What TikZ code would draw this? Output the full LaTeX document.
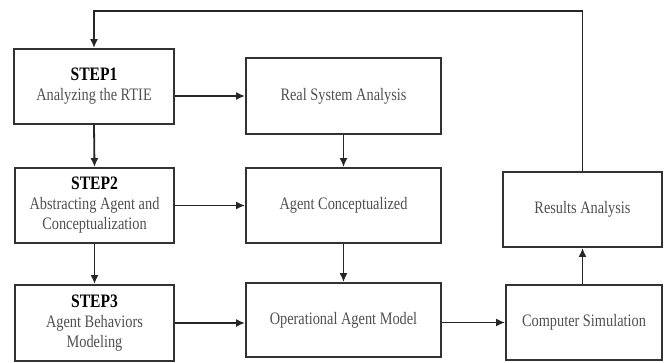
\documentclass[tikz,border=0pt]{standalone}
\usepackage{fontspec}
\setmainfont[FakeStretch=0.82]{Liberation Serif}
\usetikzlibrary{arrows.meta}
\definecolor{boxline}{RGB}{50,50,50}
\definecolor{txt}{RGB}{80,80,80}
\begin{document}
\begin{tikzpicture}[x=1pt,y=-1pt,
  box/.style={draw=boxline,line width=1.8pt,fill=white,inner sep=2pt,align=center,
    font=\fontsize{17.5}{20}\selectfont,text=txt},
  arr/.style={draw=black!85,line width=1.8pt,-{Latex[length=9pt,width=8pt]}},
  stp/.style={}]
\useasboundingbox (0,0) rectangle (665,363);
\newcommand\steplabel[1]{{\color{black}\fontsize{19}{20}\selectfont\bfseries #1}}
\node[box,minimum width=160pt,minimum height=75pt] (s1) at (94,86.5)
  {\steplabel{STEP1}\\Analyzing the RTIE};
\node[box,minimum width=159pt,minimum height=75pt] (s2) at (94.5,205.5)
  {\steplabel{STEP2}\\Abstracting Agent and\\Conceptualization};
\node[box,minimum width=159pt,minimum height=76pt] (s3) at (94.5,323)
  {\steplabel{STEP3}\\Agent Behaviors\\Modeling};
\node[box,minimum width=195pt,minimum height=76pt] (rs) at (343.5,96) {Real System Analysis};
\node[box,minimum width=195pt,minimum height=75pt] (ac) at (343.5,205.5) {Agent Conceptualized};
\node[box,minimum width=195pt,minimum height=74pt] (om) at (343.5,320) {Operational Agent Model};
\node[box,minimum width=156pt,minimum height=75pt] (cs) at (584,322.5) {Computer Simulation};
\node[box,minimum width=159pt,minimum height=75pt] (ra) at (582.5,209.5) {Results Analysis};
\coordinate (top) at (0,11);
\draw[arr] (s1.east |- rs.west) -- (rs.west);
\draw[arr] (s2.east |- ac.west) -- (ac.west);
\draw[arr] (s3.east) -- (s3.east -| om.west);
\draw[arr] (om.east |- cs.west) -- (cs.west);
\draw[arr] (s1.south) -- (s2.north);
\draw[arr] (s2.south) -- (s3.north);
\draw[arr] (rs.south) -- (ac.north);
\draw[arr] (ac.south) -- (om.north);
\draw[arr] (cs.north -| ra.south) -- (ra.south);
\draw[arr] (ra.north) -- (ra.north |- top) -| (s1.north);
\end{tikzpicture}
\end{document}
